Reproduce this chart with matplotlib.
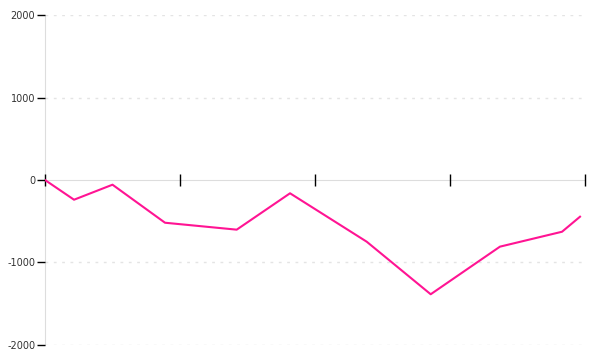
import numpy as np
import matplotlib.pyplot as plt

# data (x in tick-interval units, y in value units)
x_vals = [0, 0.215, 0.50, 0.889, 1.42, 1.815, 2.383, 2.857, 3.37, 3.83, 3.963]
y_vals = [0, -239, -57, -518, -602, -161, -748, -1385, -808, -627, -445]
x_ticks = [0, 1, 2, 3, 4]
y_ticks = [-2000, -1000, 0, 1000, 2000]

plt.rcParams["font.family"] = "DejaVu Sans"
plt.rcParams["font.size"] = 7

fig = plt.figure(figsize=(6.0, 3.6), dpi=100)
ax = fig.add_axes([0.075, 0.0417, 0.9, 0.9166])

# grid
for v in y_ticks:
    if v != 0:
        ax.axhline(v, color="#e4e4e4", linewidth=1, linestyle=(0, (2, 4)), zorder=0)

ax.plot(x_vals, y_vals, color="#ff1493", linewidth=1.5, zorder=3)

ax.set_xlim(0, 4)
ax.set_ylim(-2000, 2000)
ax.set_xticks(x_ticks)
ax.set_xticklabels([])
ax.set_yticks(y_ticks)
ax.set_yticklabels([str(v) for v in y_ticks])

ax.spines["top"].set_visible(False)
ax.spines["right"].set_visible(False)
ax.spines["bottom"].set_position(("data", 0))
ax.spines["bottom"].set_color("#dddddd")
ax.spines["left"].set_color("#dddddd")
ax.spines["bottom"].set_zorder(1)
ax.spines["left"].set_zorder(1)
ax.xaxis.set_zorder(2)
ax.yaxis.set_zorder(2)

ax.tick_params(axis="x", direction="inout", length=9, width=1, color="black")
ax.tick_params(axis="y", direction="out", length=6, width=1, color="black",
               labelcolor="#333333", pad=1)

fig.savefig("out.png", dpi=100)
